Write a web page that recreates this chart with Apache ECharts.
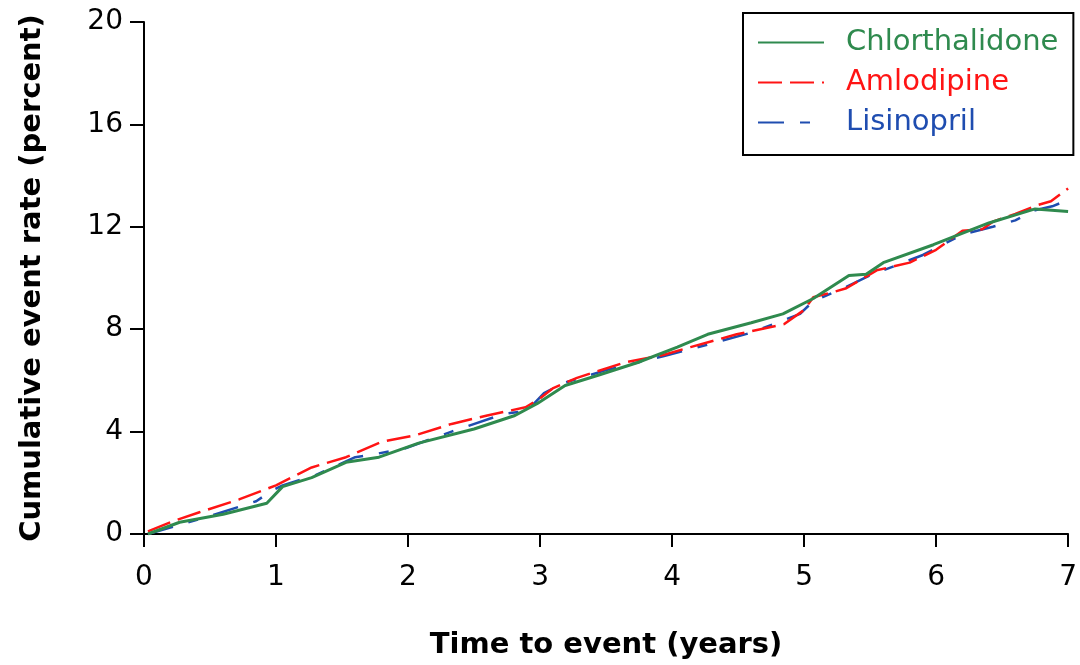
<!DOCTYPE html>
<html>
<head>
  <meta charset="utf-8" />
  <title>Cumulative event rate</title>
  <style>
    html, body { margin: 0; padding: 0; background: #fff; }
    #chart { width: 1080px; height: 665px; }
  </style>
</head>
<body>
  <div id="chart"></div>
  <script src="https://cdn.jsdelivr.net/npm/echarts@6/dist/echarts.min.js"></script>
  <script>
    // Chlorthalidone
    var chlorT = [0.03, 0.27, 0.6, 0.93, 1.05, 1.27, 1.53, 1.78, 2.08, 2.5, 2.81, 2.98, 3.19, 3.44, 3.74, 4.04, 4.27, 4.6, 4.84, 5.07, 5.34, 5.47, 5.6, 5.98, 6.4, 6.75, 7.0];
    var chlorV = [0, 0.46, 0.77, 1.2, 1.85, 2.2, 2.8, 3.0, 3.55, 4.1, 4.63, 5.1, 5.8, 6.2, 6.7, 7.3, 7.8, 8.25, 8.6, 9.2, 10.1, 10.15, 10.6, 11.3, 12.15, 12.7, 12.6];
    // Amlodipine
    var amloT = [0.03, 0.22, 0.42, 0.72, 1.0, 1.27, 1.53, 1.8, 2.05, 2.33, 2.6, 2.89, 3.0, 3.1, 3.28, 3.64, 3.94, 4.14, 4.49, 4.85, 5.0, 5.07, 5.22, 5.32, 5.55, 5.8, 6.0, 6.2, 6.35, 6.43, 6.6, 6.77, 6.87, 7.0];
    var amloV = [0.1, 0.5, 0.85, 1.35, 1.9, 2.6, 3.0, 3.6, 3.85, 4.3, 4.63, 4.95, 5.3, 5.7, 6.1, 6.7, 7.0, 7.3, 7.8, 8.2, 8.75, 9.25, 9.45, 9.6, 10.3, 10.6, 11.1, 11.85, 11.9, 12.2, 12.5, 12.85, 13.0, 13.5];
    // Lisinopril
    var lisiT = [0.03, 0.5, 0.85, 0.97, 1.05, 1.3, 1.6, 1.73, 1.98, 2.33, 2.73, 2.9, 3.03, 3.18, 3.5, 3.94, 4.27, 4.59, 4.77, 4.97, 5.07, 5.32, 5.5, 5.7, 5.9, 6.2, 6.43, 6.6, 6.75, 6.88, 7.0];
    var lisiV = [0, 0.7, 1.28, 1.7, 1.9, 2.3, 3.0, 3.1, 3.35, 4.0, 4.7, 4.8, 5.5, 5.9, 6.4, 6.95, 7.4, 7.85, 8.2, 8.6, 9.1, 9.65, 10.1, 10.5, 10.9, 11.7, 12.0, 12.25, 12.65, 12.8, 13.05];

    var names = ['Chlorthalidone', 'Amlodipine', 'Lisinopril'];
    var colors = ['#2f8a4e', '#ff1414', '#1f4db0'];

    function pairs(t, v) {
      var out = [];
      for (var i = 0; i < t.length; i++) out.push([t[i], v[i]]);
      return out;
    }

    var font = 'DejaVu Sans';
    var myChart = echarts.init(document.getElementById('chart'));

    var option = {
      animation: false,
      grid: { left: 144, right: 7, top: 22, bottom: 124 },
      legend: {
        orient: 'vertical',
        left: 743,
        top: 13,
        padding: [15, 15, 18, 14],
        itemGap: 11,
        itemWidth: 66,
        itemHeight: 14,
        borderColor: '#000',
        borderWidth: 2,
        itemStyle: { color: 'rgba(0,0,0,0)', borderWidth: 0, opacity: 0 },
        textStyle: { fontFamily: font, fontSize: 29, padding: [0, 0, 0, 17] },
        data: names.map(function (n, i) {
          return { name: n, textStyle: { color: colors[i] } };
        })
      },
      xAxis: {
        type: 'value',
        min: 0, max: 7, interval: 1,
        name: 'Time to event (years)',
        nameLocation: 'middle',
        nameGap: 97,
        nameTextStyle: { fontFamily: font, fontSize: 29, fontWeight: 'bold', color: '#000' },
        axisLine: { lineStyle: { color: '#000', width: 2 } },
        axisTick: { length: 13, lineStyle: { color: '#000', width: 2 } },
        axisLabel: { fontFamily: font, fontSize: 28, color: '#000', margin: 30 },
        splitLine: { show: false }
      },
      yAxis: {
        type: 'value',
        min: 0, max: 20, interval: 4,
        name: 'Cumulative event rate (percent)',
        nameLocation: 'middle',
        nameGap: 97,
        nameTextStyle: { fontFamily: font, fontSize: 29, fontWeight: 'bold', color: '#000' },
        axisLine: { show: true, lineStyle: { color: '#000', width: 2 } },
        axisTick: { show: true, length: 14, lineStyle: { color: '#000', width: 2 } },
        axisLabel: { fontFamily: font, fontSize: 28, color: '#000', margin: 21 },
        splitLine: { show: false }
      },
      series: [
        {
          name: names[0], type: 'line', symbol: 'none', z: 4,
          data: pairs(chlorT, chlorV),
          lineStyle: { color: colors[0], width: 3 },
          itemStyle: { color: colors[0] }
        },
        {
          name: names[1], type: 'line', symbol: 'none', z: 3,
          data: pairs(amloT, amloV),
          lineStyle: { color: colors[1], width: 2.5, type: [24, 8] },
          itemStyle: { color: colors[1] }
        },
        {
          name: names[2], type: 'line', symbol: 'none', z: 2,
          data: pairs(lisiT, lisiV),
          lineStyle: { color: colors[2], width: 2.5, type: [26, 16, 10, 16] },
          itemStyle: { color: colors[2] }
        }
      ]
    };

    myChart.setOption(option);
  </script>
</body>
</html>
